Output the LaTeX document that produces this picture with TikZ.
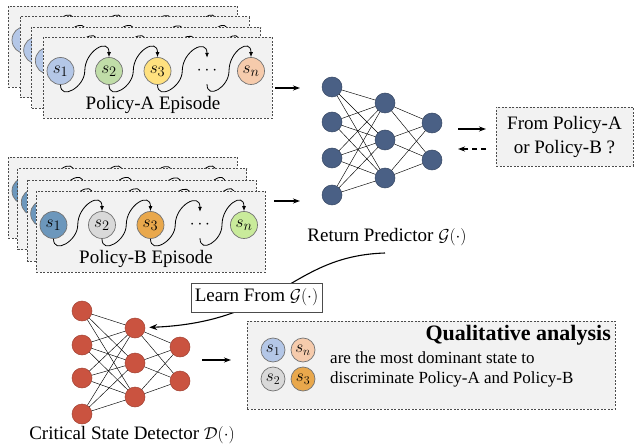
\documentclass[tikz,border=0pt]{standalone}
\usepackage{fontspec}
\setmainfont{Liberation Serif}
\usetikzlibrary{positioning, calc, arrows.meta}
\definecolor{boxgray}{HTML}{F2F2F2}
\definecolor{lightblue}{HTML}{B4C7E7}
\definecolor{softgreen}{HTML}{C0DDA8}
\definecolor{softyellow}{HTML}{FFE17F}
\definecolor{peach}{HTML}{F6CBAC}
\definecolor{steelblue}{HTML}{6C97BC}
\definecolor{lightgray}{HTML}{D9D9D9}
\definecolor{deeporange}{HTML}{E9A84C}
\definecolor{limegreen}{HTML}{C9EB9B}
\definecolor{netblue}{HTML}{4A6085}
\definecolor{netred}{HTML}{CA5340}
\newif\ifshowtext
\newcommand{\eptext}[1]{\ifshowtext#1\fi}
\tikzset{
	nettext/.style={font=\fontsize{19}{24}\selectfont},
	smalltext/.style={font=\fontsize{17}{20}\selectfont},
	episodebox/.style={draw=black!70, fill=boxgray, line width=0.6pt,
			dash pattern=on 2pt off 1.5pt, rectangle, inner sep=0pt},
	statenode/.style={circle, draw=black!55, line width=0.7pt, inner sep=0pt,
			minimum size=27pt, font=\fontsize{19}{22}\selectfont},
	dotsnode/.style={circle, inner sep=0pt, minimum size=26pt, font=\fontsize{19}{22}\selectfont},
	stateAs1/.style={fill=lightblue}, stateAs2/.style={fill=softgreen},
	stateAs3/.style={fill=softyellow}, stateAsn/.style={fill=peach},
	stateBs1/.style={fill=steelblue}, stateBs2/.style={fill=lightgray},
	stateBs3/.style={fill=deeporange}, stateBsn/.style={fill=limegreen},
	wave/.style={line width=0.8pt, -{Latex[length=5pt,width=4pt]}},
	flowarrow/.style={line width=1.3pt, -{Stealth[length=7pt,width=5pt]}},
	netedge/.style={line width=0.45pt, black},
	bluenode/.style={circle, minimum size=20pt, inner sep=0pt, fill=netblue, draw=netblue!75!black, line width=0.5pt},
	rednode/.style={circle, minimum size=20pt, inner sep=0pt, fill=netred, draw=netred!80!black, line width=0.5pt}
}
\tikzset{
	episode/.pic={
			\node[episodebox, minimum width=229pt, minimum height=81pt, anchor=north west] (-box) at (0,0) {};
			\node[statenode, state#1s1] (-s1) at (17.5,34) {\eptext{$s_1$}};
			\node[statenode, state#1s2] (-s2) at (66,34) {\eptext{$s_2$}};
			\node[statenode, state#1s3] (-s3) at (114.5,34) {\eptext{$s_3$}};
			\node[dotsnode] (-dots) at (164,34) {\eptext{$\cdots$}};
			\node[statenode, state#1sn] (-sn) at (208,34) {\eptext{$s_n$}};
			\node[nettext] (-label) at (110,68) {\eptext{Policy-#1 Episode}};
			\draw[wave] (-s1.south) .. controls +(0,16) and +(0,16) .. ($(-s1)!0.5!(-s2)$) .. controls +(0,-20) and +(0,-20) .. (-s2.north);
			\draw[wave] (-s2.south) .. controls +(0,16) and +(0,16) .. ($(-s2)!0.5!(-s3)$) .. controls +(0,-20) and +(0,-20) .. (-s3.north);
			\draw[wave] (-s3.south) .. controls +(0,16) and +(0,16) .. ($(-s3)!0.5!(-dots)$) .. controls +(0,-20) and +(0,-20) .. (-dots.north);
			\draw[wave] (-dots.south) .. controls +(0,16) and +(0,16) .. ($(-dots)!0.5!(-sn)$) .. controls +(0,-20) and +(0,-20) .. (-sn.north);
		}
}

\begin{document}
\begin{tikzpicture}[x=1pt, y=-1pt]
	\useasboundingbox (0,0) rectangle (636,446);

	% episode stacks, only the front one carries text
	\foreach \k in {0,...,3}{
			\ifnum\k=3 \showtexttrue\else\showtextfalse\fi
			\pic (epA\k) at ({8+11.67*\k},{6+10.33*\k}) {episode=A};
			\pic (epB\k) at ({8+9.33*\k},{157+11.33*\k}) {episode=B};
		}

	\coordinate (inA1) at (275,88);
	\coordinate (inA2) at (300,88);
	\coordinate (inB1) at (274,201);
	\coordinate (inB2) at (300,201);
	\draw[flowarrow] (inA1) -- (inA2);
	\draw[flowarrow] (inB1) -- (inB2);

	% return predictor
	\node[bluenode] (gi1) at (332,87) {};
	\node[bluenode] (gi2) at (332,122) {};
	\node[bluenode] (gi3) at (332,158) {};
	\node[bluenode] (gi4) at (332,195) {};
	\node[bluenode] (gh1) at (385,103) {};
	\node[bluenode] (gh2) at (385,140) {};
	\node[bluenode] (gh3) at (385,178) {};
	\node[bluenode] (go1) at (432,123) {};
	\node[bluenode] (go2) at (432,160) {};
	\foreach \i in {1,...,4}
	\foreach \j in {1,2,3}
	\draw[netedge] (gi\i) -- (gh\j);
	\foreach \j in {1,2,3}
	\foreach \m in {1,2}
	\draw[netedge] (gh\j) -- (go\m);
	\node[nettext] (retlabel) at (387,237) {Return Predictor $\mathcal{G}(\cdot)$};

	\node[episodebox, nettext, align=center, minimum width=137pt, minimum height=59pt] (question) at (564.5,136.5) {From Policy-A\\or Policy-B ?};
	\coordinate (outA1) at (458,129);
	\coordinate (outA2) at (486,129);
	\coordinate (outB1) at (486,149);
	\coordinate (outB2) at (458,149);
	\draw[flowarrow] (outA1) -- (outA2);
	\draw[flowarrow, dash pattern=on 5pt off 4pt] (outB1) -- (outB2);

	% critical state detector
	\node[rednode] (di1) at (82,311) {};
	\node[rednode] (di2) at (82,345) {};
	\node[rednode] (di3) at (82,378) {};
	\node[rednode] (di4) at (82,414) {};
	\node[rednode] (dh1) at (135,328) {};
	\node[rednode] (dh2) at (135,363) {};
	\node[rednode] (dh3) at (135,397) {};
	\node[rednode] (do1) at (180,347) {};
	\node[rednode] (do2) at (180,381) {};
	\foreach \i in {1,...,4}
	\foreach \j in {1,2,3}
	\draw[netedge] (di\i) -- (dh\j);
	\foreach \j in {1,2,3}
	\foreach \m in {1,2}
	\draw[netedge] (dh\j) -- (do\m);
	\node[nettext] (detlabel) at (132,435) {Critical State Detector $\mathcal{D}(\cdot)$};

	\coordinate (learnstart) at (385,253);
	\draw[line width=1.1pt, -{Stealth[length=8pt,width=6pt]}, shorten >=4pt] (learnstart) .. controls (290,256) and (280,322) .. (dh1);
	\node[nettext, draw=black!70, fill=white, line width=0.6pt, minimum height=29pt, inner xsep=4pt] (learnbox) at (256.5,297.5) {Learn From $\mathcal{G}(\cdot)$};

	\coordinate (outD1) at (202,360);
	\coordinate (outD2) at (231,360);
	\draw[flowarrow] (outD1) -- (outD2);

	% qualitative analysis
	\node[episodebox, minimum width=368pt, minimum height=88pt, anchor=north west] (qualbox) at (247,321) {};
	\node[font=\fontsize{22}{24}\selectfont\bfseries, anchor=east, inner sep=0pt] (qualtitle) at (611,335) {Qualitative analysis};
	\node[statenode, stateAs1, minimum size=24pt, font=\fontsize{17}{20}\selectfont] (q1) at (273,350) {$s_1$};
	\node[statenode, stateAsn, minimum size=24pt, font=\fontsize{17}{20}\selectfont] (qn) at (303,350) {$s_n$};
	\node[statenode, stateBs2, minimum size=24pt, font=\fontsize{17}{20}\selectfont] (q2) at (273,379) {$s_2$};
	\node[statenode, stateBs3, minimum size=24pt, font=\fontsize{17}{20}\selectfont] (q3) at (303,379) {$s_3$};
	\node[smalltext, anchor=west, align=left, inner sep=0pt] (qualtext) at (330,369) {are the most dominant state to\\discriminate Policy-A and Policy-B};

\end{tikzpicture}
\end{document}
